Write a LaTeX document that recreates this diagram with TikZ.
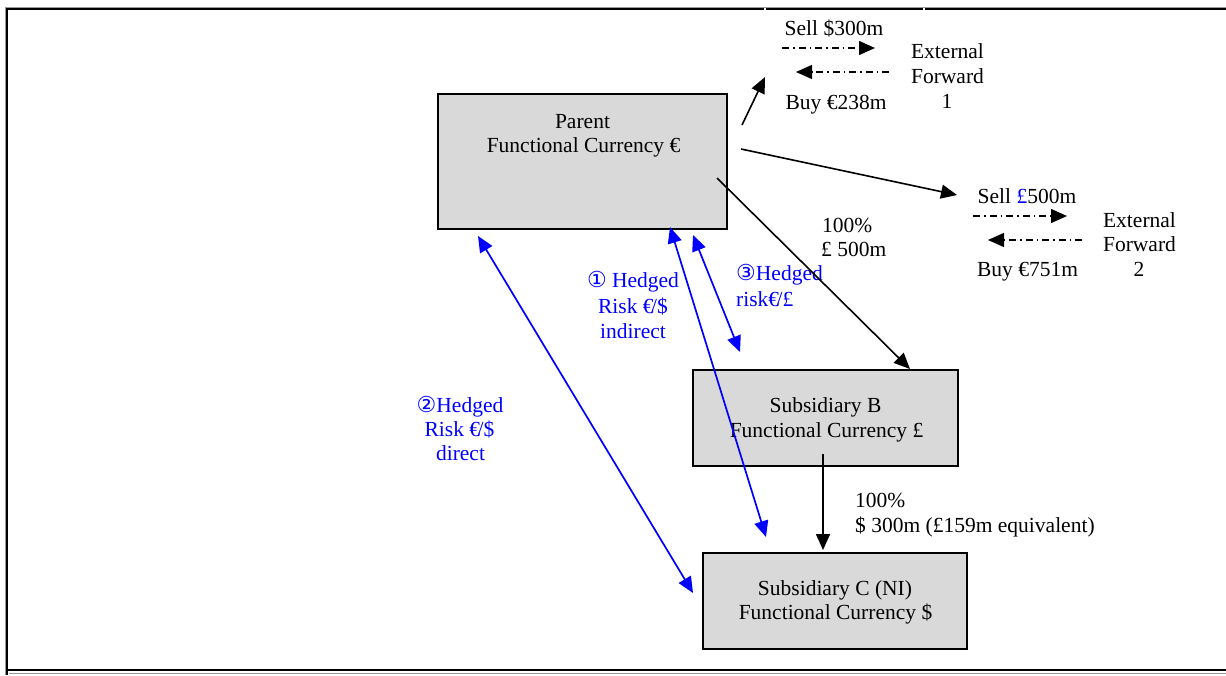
\documentclass[tikz,border=0pt]{standalone}
\usepackage{fontspec}
\setmainfont{Liberation Serif}
\newfontfamily\symf{DejaVu Sans}
\usetikzlibrary{arrows.meta}
\definecolor{boxgray}{HTML}{D9D9D9}
\definecolor{hblue}{RGB}{0,0,255}
\tikzset{
 txt/.style={anchor=base, inner sep=0pt, font=\fontsize{21.5}{24}\selectfont},
 txtl/.style={txt, anchor=base west},
 btxt/.style={txt, text=hblue},
 btxtl/.style={txtl, text=hblue},
 box/.style={draw=black, line width=1.6pt, fill=boxgray, inner sep=0pt},
 tip/.tip={Triangle[length=16pt,width=14pt]},
 conn/.style={line width=1.6pt, -tip},
 hedge/.style={draw=hblue, line width=1.7pt, tip-tip},
 fwd/.style={line width=1.3pt, dash pattern=on 7pt off 4pt on 1.5pt off 4pt, -tip},
 frameline/.style={line width=1.6pt},
 frameshade/.style={draw=black!40, line width=0.8pt}
}
\newcommand{\circd}[1]{{\symf\fontsize{22}{24}\selectfont #1}}
\begin{document}
\begin{tikzpicture}[x=1pt,y=-1pt]
\useasboundingbox (0,0) rectangle (1226,675);
% frame
\draw[frameshade] (5,675) -- (5,7) -- (1226,7);
\draw[frameshade] (9,673.5) -- (1226,673.5);
\draw[frameline] (7,675) -- (7,9) -- (764,9);
\draw[frameline] (766,9) -- (923,9);
\draw[frameline] (925,9) -- (1226,9);
\draw[frameline] (7,670) -- (1226,670);

% boxes
\node[box, minimum width=289pt, minimum height=135pt] (parent) at (582.5,161.5) {};
\node[box, minimum width=265pt, minimum height=96pt] (subB) at (825.5,418) {};
\node[box, minimum width=264pt, minimum height=96pt] (subC) at (835,601) {};

\node[txt] (pt1) at (582.5,128) {Parent};
\node[txt] (pt2) at (583.5,152) {Functional Currency €};
\node[txt] (bt1) at (825.5,412) {Subsidiary B};
\node[txt] (bt2) at (826.5,437) {Functional Currency £};
\node[txt] (ct1) at (835,595) {Subsidiary C (NI)};
\node[txt] (ct2) at (835.5,619) {Functional Currency \$};

% forward 1
\node[txt] (s1) at (834,35) {Sell \$300m};
\node[txt] (b1) at (836,109) {Buy €238m};
\node[txt] (e1a) at (947.5,58) {External};
\node[txt] (e1b) at (947.5,83) {Forward};
\node[txt] (e1c) at (947,108) {1};
% forward 2
\node[txt] (s2) at (1027,203) {Sell \textcolor{hblue}{£}500m};
\node[txt] (b2) at (1027.5,276) {Buy €751m};
\node[txt] (e2a) at (1139.5,227) {External};
\node[txt] (e2b) at (1139.5,251) {Forward};
\node[txt] (e2c) at (1139,276) {2};

% holdings labels
\node[txtl] (h1a) at (822,232) {100\%};
\node[txtl] (h1b) at (821,256) {£ 500m};
\node[txtl] (h2a) at (855,507) {100\%};
\node[txtl] (h2b) at (855,532) {\$ 300m (£159m equivalent)};

% hedge labels
\node[btxt] (r1a) at (633,287) {\circd{①} Hedged};
\node[btxt] (r1b) at (633,313) {Risk €\kern-0.12em/\$};
\node[btxt] (r1c) at (633,338) {indirect};
\node[btxt] (r2a) at (460,412) {\circd{②}Hedged};
\node[btxt] (r2b) at (459.5,436) {Risk €\kern-0.12em/\$};
\node[btxt] (r2c) at (460.5,460) {direct};
\node[btxtl] (r3a) at (736,280) {\circd{③}Hedged};
\node[btxtl] (r3b) at (736,306) {risk€\kern-0.12em/£};

% connector coordinates
\coordinate (p1s) at (742,125);
\coordinate (p1e) at (765,77);
\coordinate (p2s) at (741,149);
\coordinate (p2e) at (957,195);
\coordinate (p3s) at (717,178);
\coordinate (p3e) at (910,369);
\coordinate (bcs) at (823,454);
\coordinate (bce) at (823,550);
\coordinate (f1a) at (782,48);
\coordinate (f1b) at (875,48);
\coordinate (f1c) at (889,72);
\coordinate (f1d) at (796,72);
\coordinate (f2a) at (973,216);
\coordinate (f2b) at (1067,216);
\coordinate (f2c) at (1082,240);
\coordinate (f2d) at (988,240);
\coordinate (d1) at (478,236);
\coordinate (d2) at (693,593);
\coordinate (i1) at (670,227);
\coordinate (i2) at (766,537);
\coordinate (g1) at (693,235);
\coordinate (g2) at (740,352);

\draw[conn] (p1s) -- (p1e);
\draw[conn] (p2s) -- (p2e);
\draw[conn] (p3s) -- (p3e);
\draw[conn] (bcs) -- (bce);
\draw[fwd] (f1a) -- (f1b);
\draw[fwd] (f1c) -- (f1d);
\draw[fwd] (f2a) -- (f2b);
\draw[fwd] (f2c) -- (f2d);
\draw[hedge] (d1) -- (d2);
\draw[hedge] (i1) -- (i2);
\draw[hedge] (g1) -- (g2);
\end{tikzpicture}
\end{document}
